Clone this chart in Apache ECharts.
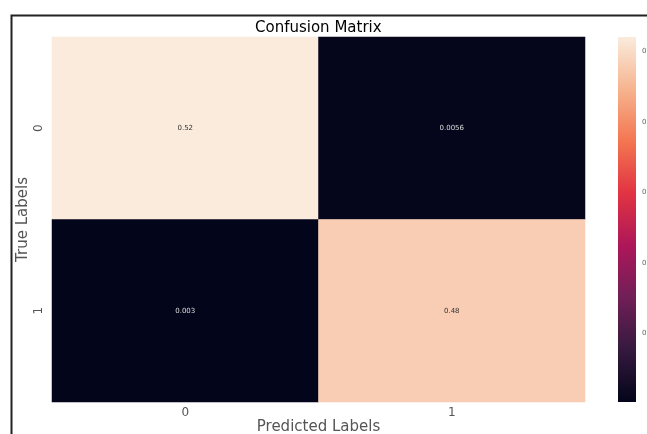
<!DOCTYPE html>
<html>
<head>
<meta charset="utf-8">
<script src="https://cdn.jsdelivr.net/npm/echarts@6/dist/echarts.min.js"></script>
<style>html,body{margin:0;padding:0;background:#fff;}#c{width:647px;height:434px;}</style>
</head>
<body>
<div id="c"></div>
<script>
const xCategories = ['0', '1'];
const yCategories = ['0', '1'];
const matrixValues = [[0.52, 0.0056], [0.003, 0.48]];
const valueLabels = [['0.52', '0.0056'], ['0.003', '0.48']];
const colorbarTicks = [0.1, 0.2, 0.3, 0.4, 0.5];
const colorMin = 0.003;
const colorMax = 0.52;
const rocket = ['#03051A', '#35193E', '#701F57', '#AD1759', '#E13342', '#F37651', '#F6B48F', '#FAEBDD'];

const data = [];
for (let r = 0; r < yCategories.length; r++) {
  for (let c = 0; c < xCategories.length; c++) {
    data.push({ value: [c, r, matrixValues[r][c]], label: { formatter: valueLabels[r][c], color: matrixValues[r][c] > 0.3 ? '#333' : '#ddd' } });
  }
}

const gradientStops = rocket.map((c, i) => ({ offset: 1 - i / (rocket.length - 1), color: c }));

const chart = echarts.init(document.getElementById('c'), null, { renderer: 'canvas' });
chart.setOption({
  animation: false,
  backgroundColor: '#fff',
  textStyle: { fontFamily: 'DejaVu Sans' },
  title: {
    text: 'Confusion Matrix', left: 250, top: 16,
    textStyle: { fontSize: 15, fontWeight: 'normal', color: '#000', fontFamily: 'DejaVu Sans' }
  },
  graphic: [{
    type: 'rect', silent: true,
    shape: { x: 11.5, y: 15.5, width: 800, height: 600 },
    style: { fill: 'none', stroke: '#222', lineWidth: 2 }
  }],
  grid: [
    { left: 52, right: 62, top: 37, bottom: 32, outerBoundsMode: 'none', containLabel: false },
    { left: 618, width: 18, top: 37, height: 365, outerBoundsMode: 'none', containLabel: false }
  ],
  xAxis: [
    {
      type: 'category', data: xCategories, gridIndex: 0,
      name: 'Predicted Labels', nameLocation: 'middle', nameGap: 18, nameMoveOverlap: false,
      nameTextStyle: { fontSize: 15, color: '#555', fontFamily: 'DejaVu Sans' },
      axisLine: { show: false }, splitLine: { show: false },
      axisTick: { alignWithLabel: true, length: 4, lineStyle: { color: '#666' } },
      axisLabel: { fontSize: 12, color: '#555', margin: 5 }
    },
    { type: 'value', gridIndex: 1, show: false, min: 0, max: 1 }
  ],
  yAxis: [
    {
      type: 'category', data: yCategories, gridIndex: 0, inverse: true,
      name: 'True Labels', nameLocation: 'middle', nameGap: 21, nameMoveOverlap: false,
      nameTextStyle: { fontSize: 15, color: '#555', fontFamily: 'DejaVu Sans' },
      axisLine: { show: false }, splitLine: { show: false },
      axisTick: { alignWithLabel: true, length: 4, lineStyle: { color: '#666' } },
      axisLabel: { fontSize: 12, color: '#555', rotate: 90, margin: 7 }
    },
    {
      type: 'value', gridIndex: 1, position: 'right', min: colorMin, max: colorMax,
      axisLine: { show: false }, splitLine: { show: false },
      axisTick: { show: true, length: 3, customValues: colorbarTicks, lineStyle: { color: '#888' } },
      axisLabel: { show: true, fontSize: 7, color: '#666', margin: 6, customValues: colorbarTicks, formatter: v => v.toFixed(1) }
    }
  ],
  visualMap: {
    type: 'continuous', min: colorMin, max: colorMax, seriesIndex: 0,
    calculable: false, show: false,
    inRange: { color: rocket }
  },
  series: [
    {
      type: 'heatmap', xAxisIndex: 0, yAxisIndex: 0, data: data,
      label: { show: true, fontSize: 7, fontFamily: 'DejaVu Sans' },
      itemStyle: { borderWidth: 0 },
      emphasis: { disabled: true }
    },
    {
      type: 'custom', xAxisIndex: 1, yAxisIndex: 1, silent: true,
      data: [[0, 1, colorMin, colorMax]],
      renderItem: function (params, api) {
        const p0 = api.coord([api.value(0), api.value(3)]);
        const p1 = api.coord([api.value(1), api.value(2)]);
        return {
          type: 'rect',
          shape: { x: p0[0], y: p0[1], width: p1[0] - p0[0], height: p1[1] - p0[1] },
          style: { fill: new echarts.graphic.LinearGradient(0, 0, 0, 1, gradientStops) }
        };
      }
    }
  ]
});
</script>
</body>
</html>
